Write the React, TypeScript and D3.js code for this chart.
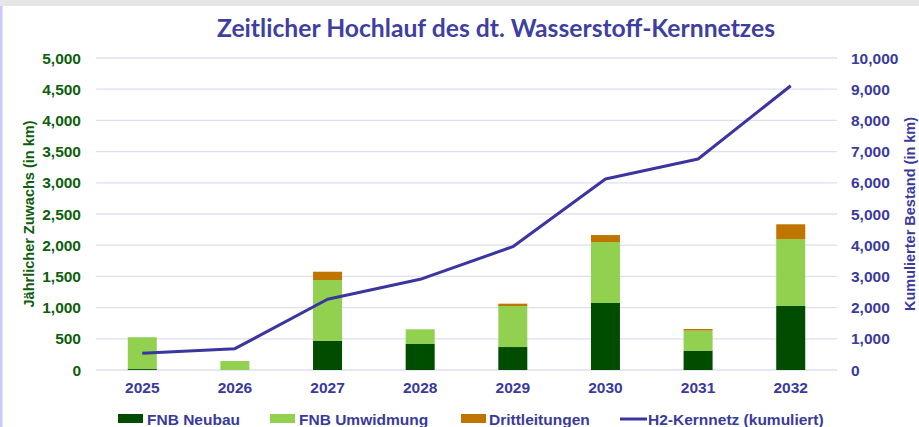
import React from 'react';
import * as d3 from 'd3';

const years = ['2025', '2026', '2027', '2028', '2029', '2030', '2031', '2032'];
const neubau = [15, 0, 470, 417, 368, 1074, 310, 1026];
const umwidmung = [510, 144, 972, 235, 658, 977, 321, 1073];
const drittleitungen = [0, 0, 133, 0, 37, 112, 26, 236];
const kumuliert = [535, 683, 2266, 2907, 3952, 6122, 6763, 9110];

const leftTicks = [0, 500, 1000, 1500, 2000, 2500, 3000, 3500, 4000, 4500, 5000];
const rightTicks = [0, 1000, 2000, 3000, 4000, 5000, 6000, 7000, 8000, 9000, 10000];

const seriesKeys = ['neubau', 'umwidmung', 'dritt'];
const seriesNames = ['FNB Neubau', 'FNB Umwidmung', 'Drittleitungen'];
const colors = ['#004d00', '#92d050', '#c07500'];

const W = 919;
const H = 427;
const BLUE = '#3a3a9c';
const DGREEN = '#0d5e0d';
const FONT = '"Liberation Sans", Arial, sans-serif';

const App = () => {
  const x = d3.scaleBand().domain(years).range([96, 837]).paddingInner(0.687).paddingOuter(0.343);
  const yL = d3.scaleLinear().domain([0, 5000]).range([370, 58]);
  const yR = d3.scaleLinear().domain([0, 10000]).range([370, 58]);

  const rows = years.map((yr, i) => ({ year: yr, neubau: neubau[i], umwidmung: umwidmung[i], dritt: drittleitungen[i] }));
  const stacked = d3.stack().keys(seriesKeys)(rows as any);

  const cx = (yr) => (x(yr) as number) + x.bandwidth() / 2;
  const line = d3.line().x((d: any) => cx(d[0])).y((d: any) => yR(d[1]));
  const linePath = line(years.map((yr, i) => [yr, kumuliert[i]]) as any);

  const fmt = d3.format(',');

  // legend positions
  const legend = [
    { sx: 118, tx: 147, label: seriesNames[0], color: colors[0] },
    { sx: 270, tx: 299, label: seriesNames[1], color: colors[1] },
    { sx: 461, tx: 489, label: seriesNames[2], color: colors[2] },
  ];

  return (
    <div style={{ position: 'absolute', left: 0, top: 0 }}>
      <svg width={W} height={H} style={{ display: 'block', fontFamily: FONT }}>
        <rect x={0} y={0} width={W} height={H} fill="#fff" />
        <rect x={0} y={0} width={W} height={6} fill="#e6e6e6" />
        <rect x={0} y={6} width={2.5} height={H - 6} fill="#c8c8ff" />

        <text x={217} y={37} textLength={558} lengthAdjust="spacingAndGlyphs"
          fontFamily="Lato, 'Open Sans', sans-serif" fontWeight="bold" fontSize={25} fill="#3f3fa0">
          Zeitlicher Hochlauf des dt. Wasserstoff-Kernnetzes
        </text>

        {leftTicks.map((t) => (
          <line key={'g' + t} x1={96} x2={837} y1={yL(t)} y2={yL(t)} stroke="#dedef2" strokeWidth={1.3} />
        ))}

        {stacked.map((s, si) => (
          <g key={seriesKeys[si]} fill={colors[si]}>
            {s.map((d: any, i) => {
              const h = yL(d[0]) - yL(d[1]);
              if (h <= 0) return null;
              return <rect key={i} x={x(years[i])} y={yL(d[1])} width={x.bandwidth()} height={h} />;
            })}
          </g>
        ))}

        <path d={linePath} fill="none" stroke="#3a35a0" strokeWidth={3} strokeLinejoin="round" />

        {leftTicks.map((t) => (
          <text key={'l' + t} x={81} y={yL(t)} textAnchor="end" dominantBaseline="central"
            fontWeight="bold" fontSize={15.5} fill={DGREEN}>{fmt(t)}</text>
        ))}
        {rightTicks.map((t) => (
          <text key={'r' + t} x={851} y={yR(t)} textAnchor="start" dominantBaseline="central"
            fontWeight="bold" fontSize={15.5} fill={BLUE}>{fmt(t)}</text>
        ))}
        {years.map((yr) => (
          <text key={'x' + yr} x={cx(yr)} y={393} textAnchor="middle"
            fontWeight="bold" fontSize={15.5} fill={BLUE}>{yr}</text>
        ))}

        <text transform="translate(29,214) rotate(-90)" textAnchor="middle" dominantBaseline="central"
          fontWeight="bold" fontSize={14.5} fill={DGREEN}>Jährlicher Zuwachs (in km)</text>
        <text transform="translate(910,214) rotate(-90)" textAnchor="middle" dominantBaseline="central"
          fontWeight="bold" fontSize={14.5} fill={BLUE}>Kumulierter Bestand (in km)</text>

        {legend.map((l) => (
          <g key={l.label}>
            <rect x={l.sx} y={414} width={25} height={9} fill={l.color} />
            <text x={l.tx} y={419} dominantBaseline="central" fontWeight="bold" fontSize={15.5} fill={BLUE}>{l.label}</text>
          </g>
        ))}
        <line x1={620} x2={647} y1={419} y2={419} stroke="#3a35a0" strokeWidth={3} />
        <text x={648} y={419} dominantBaseline="central" fontWeight="bold" fontSize={15.5} fill={BLUE}>H2-Kernnetz (kumuliert)</text>
      </svg>
    </div>
  );
};

export default App;
